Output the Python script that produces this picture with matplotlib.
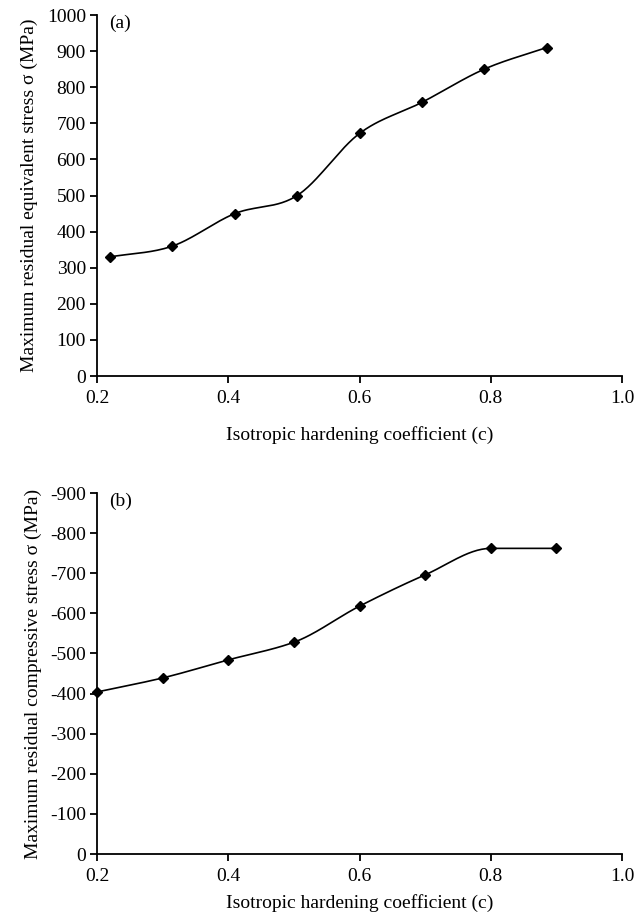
import numpy as np
import matplotlib
matplotlib.use('Agg')
from matplotlib import pyplot as plt

plt.rcParams['font.family'] = ['Liberation Serif', 'DejaVu Serif']
plt.rcParams['font.size'] = 14

# panel (a): equivalent stress
ca = [0.22, 0.315, 0.41, 0.505, 0.60, 0.695, 0.79, 0.885]
sa = [330, 360, 450, 500, 672, 758, 850, 910]

# panel (b): compressive stress
cb = [0.2, 0.3, 0.4, 0.5, 0.6, 0.7, 0.8, 0.9]
sb = [-404, -439, -484, -528, -618, -696, -762, -762]

xticks = [0.2, 0.4, 0.6, 0.8, 1.0]


def smooth(x, y, n=30, monotone=False):
    # smoothed line through the points (cubic hermite segments)
    x = np.asarray(x, float)
    y = np.asarray(y, float)
    k = len(x)
    d = np.diff(y) / np.diff(x)
    m = np.zeros(k)
    if monotone:
        m[0], m[-1] = d[0], d[-1]
        for i in range(1, k - 1):
            if d[i - 1] * d[i] > 0:
                m[i] = 2 / (1 / d[i - 1] + 1 / d[i])
    else:
        for i in range(k):
            a, b = max(i - 1, 0), min(i + 1, k - 1)
            m[i] = (y[b] - y[a]) / (x[b] - x[a])
    xs, ys = [], []
    t = np.linspace(0, 1, n)
    for i in range(k - 1):
        h = x[i + 1] - x[i]
        h00 = 2 * t**3 - 3 * t**2 + 1
        h10 = t**3 - 2 * t**2 + t
        h01 = -2 * t**3 + 3 * t**2
        h11 = t**3 - t**2
        xs.append(x[i] + t * h)
        ys.append(h00 * y[i] + h10 * h * m[i] + h01 * y[i + 1] + h11 * h * m[i + 1])
    return np.concatenate(xs), np.concatenate(ys)


def style(ax, lpad):
    for s in ['top', 'right']:
        ax.spines[s].set_visible(False)
    for s in ['left', 'bottom']:
        ax.spines[s].set_linewidth(1.3)
    ax.tick_params(direction='out', length=5, width=1.3, pad=3)
    ax.tick_params(axis='x', pad=5)
    ax.set_xlim(0.2, 1.0)
    ax.set_xticks(xticks)
    ax.set_xticklabels(['%.1f' % v for v in xticks])
    ax.set_xlabel('Isotropic hardening coefficient (c)', labelpad=lpad)


fig = plt.figure(figsize=(6.38, 9.21), dpi=100)

ax1 = fig.add_axes([0.152, 0.5917, 0.823, 0.3920])
xs, ys = smooth(ca, sa)
ax1.plot(xs, ys, color='black', linewidth=1.2, clip_on=False)
ax1.plot(ca, sa, 'D', color='black', markersize=5.5, clip_on=False)
ax1.set_ylim(0, 1000)
ax1.set_yticks(range(0, 1001, 100))
ax1.set_ylabel('Maximum residual equivalent stress σ (MPa)', labelpad=6)
ax1.text(0.023, 1.0, '(a)', transform=ax1.transAxes, va='top')
style(ax1, 14)

ax2 = fig.add_axes([0.152, 0.0727, 0.823, 0.3920])
xs, ys = smooth(cb, sb, monotone=True)
ax2.plot(xs, ys, color='black', linewidth=1.2, clip_on=False)
ax2.plot(cb, sb, 'D', color='black', markersize=5.5, clip_on=False)
ax2.set_ylim(0, -900)
ax2.set_yticks(range(0, -901, -100))
ax2.set_yticklabels(['0'] + ['-%d' % v for v in range(100, 901, 100)])
ax2.set_ylabel('Maximum residual compressive stress σ (MPa)', labelpad=6)
ax2.text(0.023, 1.0, '(b)', transform=ax2.transAxes, va='top')
style(ax2, 6.5)

fig.savefig('out.png', dpi=100)
